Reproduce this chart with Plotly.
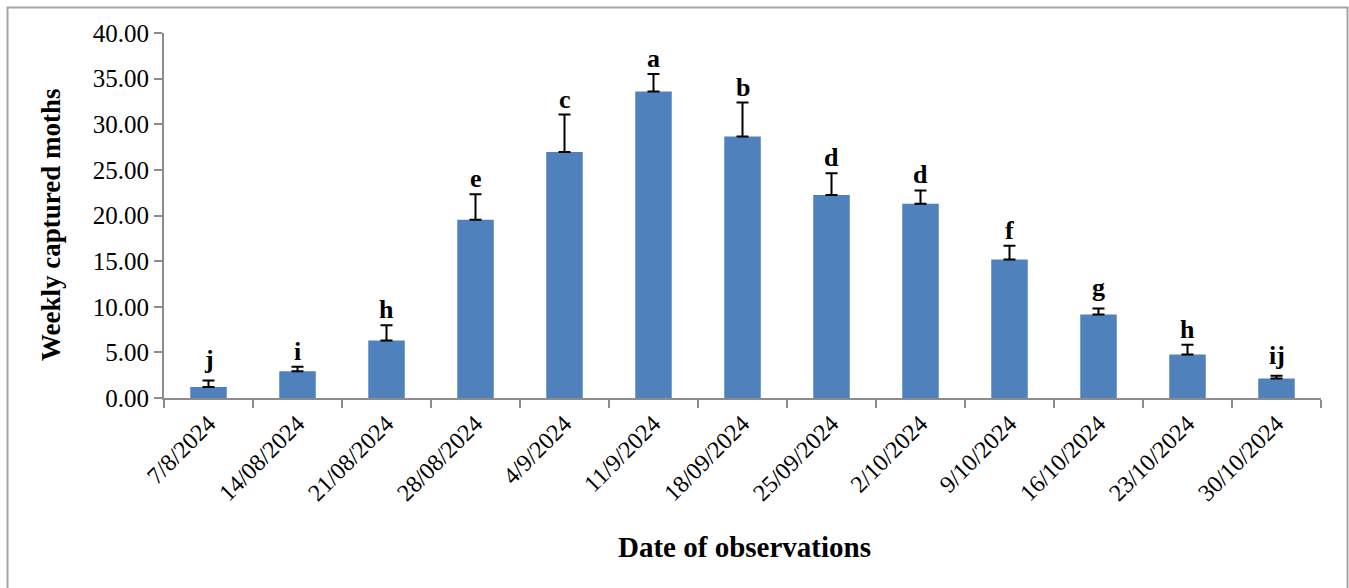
import plotly.graph_objects as go

# Weekly pheromone-trap captures
dates = ["7/8/2024", "14/08/2024", "21/08/2024", "28/08/2024", "4/9/2024",
         "11/9/2024", "18/09/2024", "25/09/2024", "2/10/2024", "9/10/2024",
         "16/10/2024", "23/10/2024", "30/10/2024"]
mean_moths = [1.20, 2.92, 6.31, 19.54, 26.96, 33.60, 28.67, 22.24, 21.29,
              15.19, 9.16, 4.78, 2.15]
std_error = [0.73, 0.50, 1.65, 2.80, 4.10, 1.90, 3.70, 2.40, 1.46,
             1.50, 0.66, 1.06, 0.30]
letters = ["j", "i", "h", "e", "c", "a", "b", "d", "d", "f", "g", "h", "ij"]
y_ticks = [0, 5, 10, 15, 20, 25, 30, 35, 40]
y_tick_text = [f"{v:.2f}" for v in y_ticks]

W, H = 1349, 588
L, R, T, B = 164, 28, 33, 190
serif = "Liberation Serif, Times New Roman, serif"
axis_grey = "#8c8c8c"

pw, ph = W - L - R, H - T - B
def px_x(x):
    return (x - L) / pw
def px_y(y):
    return (H - B - y) / ph

fig = go.Figure(go.Bar(
    x=dates,
    y=mean_moths,
    marker=dict(color="#4F81BD", line=dict(color="#4F81BD", width=0)),
    error_y=dict(type="data", array=std_error, symmetric=False,
                 arrayminus=[0] * len(std_error),
                 color="#000000", thickness=2, width=6),
    showlegend=False,
))

# significance letters above each error bar; lift letters with descenders
for d, m, e, s in zip(dates, mean_moths, std_error, letters):
    lift = 5 if any(c in s for c in "gjpqy") else 0
    fig.add_annotation(x=d, y=m + e, text=f"<b>{s}</b>", showarrow=False,
                       yanchor="bottom", yshift=lift - 1,
                       font=dict(family=serif, size=26, color="#000000"))

# axis titles
fig.add_annotation(xref="paper", yref="paper", x=px_x(744), y=px_y(547),
                   text="<b>Date of observations</b>", showarrow=False,
                   xanchor="center", yanchor="middle",
                   font=dict(family=serif, size=29, color="#000000"))
fig.add_annotation(xref="paper", yref="paper", x=px_x(51), y=px_y(225),
                   text="<b>Weekly captured moths</b>", showarrow=False,
                   textangle=-90, xanchor="center", yanchor="middle",
                   font=dict(family=serif, size=27, color="#000000"))

# outer chart frame
fig.add_shape(type="rect", xref="paper", yref="paper",
              x0=px_x(7.5), x1=px_x(1347.5), y0=px_y(600), y1=px_y(7.5),
              line=dict(color="#a6a6a6", width=2), layer="below")

fig.update_layout(
    width=W, height=H,
    margin=dict(l=L, r=R, t=T, b=B),
    plot_bgcolor="white", paper_bgcolor="white",
    bargap=0.59,
    font=dict(family=serif, color="#000000"),
    xaxis=dict(
        type="category",
        showline=True, linecolor=axis_grey, linewidth=2,
        ticks="outside", tickson="boundaries", ticklen=8,
        tickcolor=axis_grey, tickwidth=1.5,
        tickangle=-45, tickfont=dict(family=serif, size=24),
        showgrid=False,
    ),
    yaxis=dict(
        range=[0, 40], tickvals=y_ticks, ticktext=y_tick_text,
        showline=True, linecolor=axis_grey, linewidth=2,
        ticks="outside", ticklen=8, tickcolor=axis_grey, tickwidth=1.5,
        tickfont=dict(family=serif, size=25),
        showgrid=False, zeroline=False,
    ),
)

fig.write_html("out.html")
